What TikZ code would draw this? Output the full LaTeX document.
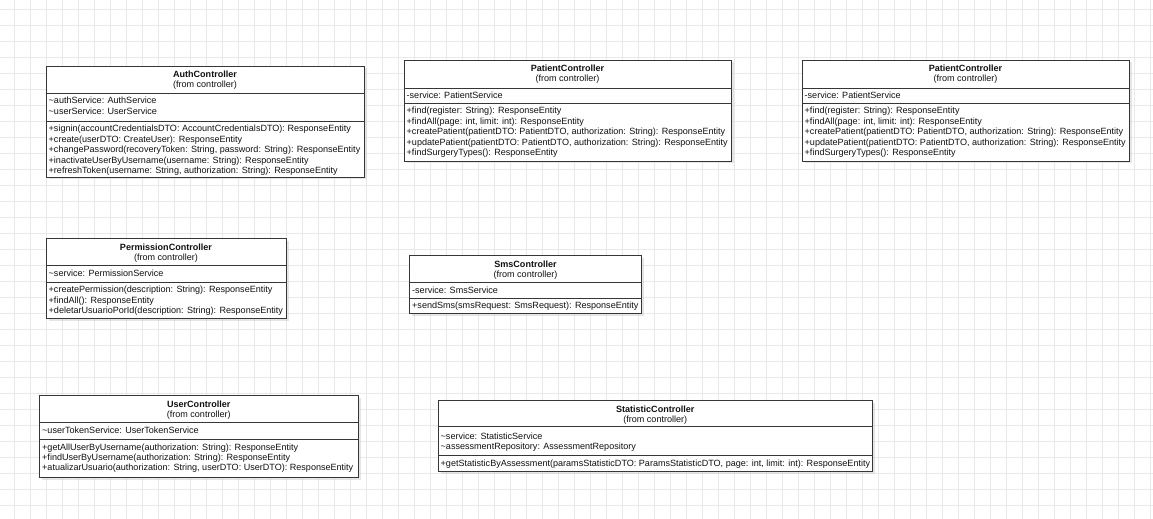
\documentclass[tikz,border=0pt]{standalone}
\usepackage{fontspec}
\setmainfont{Liberation Sans}
\usetikzlibrary{shadows}
\definecolor{umlborder}{HTML}{363636}
\definecolor{umltextc}{HTML}{111111}
\definecolor{gridc}{HTML}{E9E9E9}
\tikzset{
  classbox/.style={draw=umlborder, line width=0.9bp, fill=white, inner sep=0pt, outer sep=0pt,
    anchor=north west, drop shadow={shadow xshift=2.5bp, shadow yshift=-2.5bp, fill=black!20}},
  sepline/.style={draw=umlborder, line width=0.8bp},
  umltext/.style={inner sep=0pt, font=\fontsize{9.05bp}{10.4bp}\selectfont, text=umltextc},
  gridline/.style={draw=gridc, line width=0.8bp},
}
% name, x1, y1, x2, y2, sep1, sep2, title
\newcommand{\UmlBox}[8]{%
  \node[classbox, minimum width={(#4-#2)*1bp}, minimum height={(#5-#3)*1bp}] (#1) at (#2,#3) {};
  \draw[sepline] (#1.west |- 0,#6) -- (#1.east |- 0,#6);
  \draw[sepline] (#1.west |- 0,#7) -- (#1.east |- 0,#7);
  \node[umltext, anchor=base] (#1-title) at ({(#2+#4)/2},{#3+11.8}) {\bfseries #8};
  \node[umltext, anchor=base] (#1-from) at ({(#2+#4)/2},{#3+22}) {(from controller)};
}
% name prefix, x, first baseline, list of lines
\newcommand{\UmlLines}[4]{%
  \foreach \t [count=\i] in {#4} {
    \node[umltext, anchor=base west] (#1-\i) at (#2,{#3+(\i-1)*10.4}) {\t};
  }
}
\begin{document}
\begin{tikzpicture}[x=1bp, y=-1bp]
  \fill[white] (0,0) rectangle (1153,519);
  \useasboundingbox (0,0) rectangle (1153,519);
  \foreach \gx in {14,30,...,1150} { \draw[gridline] (\gx,0) -- (\gx,519); }
  \foreach \gy in {9,25,...,505} { \draw[gridline] (0,\gy) -- (1153,\gy); }

  % AuthController
  \UmlBox{auth}{46}{66}{364}{177}{93}{121}{AuthController}
  \UmlLines{auth-a}{48.5}{104}{{\textasciitilde authService: AuthService},{\textasciitilde userService: UserService}}
  \UmlLines{auth-m}{48.5}{132}{{+signin(accountCredentialsDTO: AccountCredentialsDTO): ResponseEntity},{+create(userDTO: CreateUser): ResponseEntity},{+changePassword(recoveryToken: String, password: String): ResponseEntity},{+inactivateUserByUsername(username: String): ResponseEntity},{+refreshToken(username: String, authorization: String): ResponseEntity}}

  % PatientController (1)
  \UmlBox{patA}{404}{60}{731}{161}{88}{103}{PatientController}
  \UmlLines{patA-a}{406.5}{99}{{-service: PatientService}}
  \UmlLines{patA-m}{406.5}{114}{{+find(register: String): ResponseEntity},{+findAll(page: int, limit: int): ResponseEntity},{+createPatient(patientDTO: PatientDTO, authorization: String): ResponseEntity},{+updatePatient(patientDTO: PatientDTO, authorization: String): ResponseEntity},{+findSurgeryTypes(): ResponseEntity}}

  % PatientController (2)
  \UmlBox{patB}{802}{60}{1129}{161}{88}{103}{PatientController}
  \UmlLines{patB-a}{804.5}{99}{{-service: PatientService}}
  \UmlLines{patB-m}{804.5}{114}{{+find(register: String): ResponseEntity},{+findAll(page: int, limit: int): ResponseEntity},{+createPatient(patientDTO: PatientDTO, authorization: String): ResponseEntity},{+updatePatient(patientDTO: PatientDTO, authorization: String): ResponseEntity},{+findSurgeryTypes(): ResponseEntity}}

  % PermissionController
  \UmlBox{perm}{46}{238.5}{286}{318.5}{265.5}{282}{PermissionController}
  \UmlLines{perm-a}{48.5}{276.5}{{\textasciitilde service: PermissionService}}
  \UmlLines{perm-m}{48.5}{293}{{+createPermission(description: String): ResponseEntity},{+findAll(): ResponseEntity},{+deletarUsuarioPorId(description: String): ResponseEntity}}

  % SmsController
  \UmlBox{sms}{409.5}{255.5}{641.5}{313.5}{282}{298.5}{SmsController}
  \UmlLines{sms-a}{412}{293.5}{{-service: SmsService}}
  \UmlLines{sms-m}{412}{309}{{+sendSms(smsRequest: SmsRequest): ResponseEntity}}

  % UserController
  \UmlBox{user}{39.5}{395.5}{358}{477}{422}{439}{UserController}
  \UmlLines{user-a}{42}{433}{{\textasciitilde userTokenService: UserTokenService}}
  \UmlLines{user-m}{42}{450}{{+getAllUserByUsername(authorization: String): ResponseEntity},{+findUserByUsername(authorization: String): ResponseEntity},{+atualizarUsuario(authorization: String, userDTO: UserDTO): ResponseEntity}}

  % StatisticController
  \UmlBox{stat}{438}{400.5}{872.5}{471}{426.5}{455}{StatisticController}
  \UmlLines{stat-a}{440.5}{439}{{\textasciitilde service: StatisticService},{\textasciitilde assessmentRepository: AssessmentRepository}}
  \UmlLines{stat-m}{440.5}{466}{{+getStatisticByAssessment(paramsStatisticDTO: ParamsStatisticDTO, page: int, limit: int): ResponseEntity}}
\end{tikzpicture}
\end{document}
